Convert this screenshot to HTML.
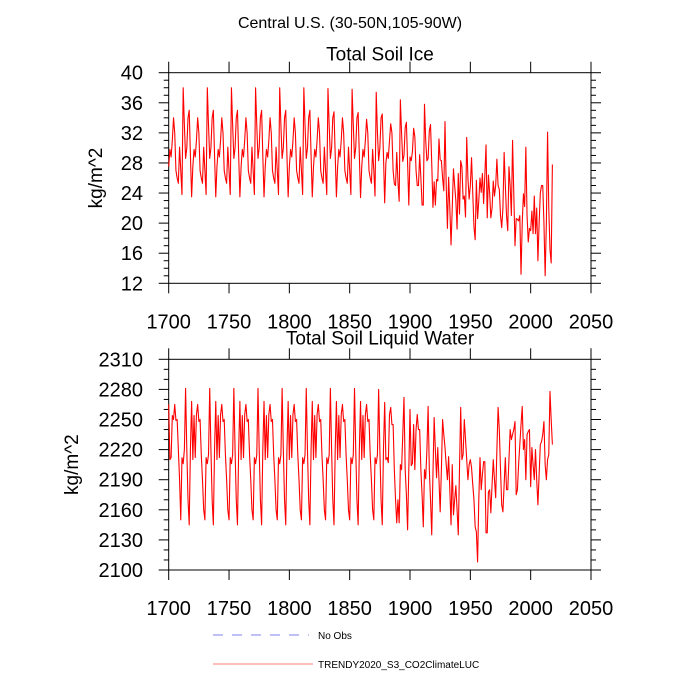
<!DOCTYPE html>
<html>
<head>
<meta charset="utf-8">
<style>
  html, body { margin: 0; padding: 0; background: #fff; }
  svg { display: block; font-family: "Liberation Sans", sans-serif; }
</style>
</head>
<body>
<svg id="chart" width="700" height="700" viewBox="0 0 700 700" xmlns="http://www.w3.org/2000/svg">
  <rect x="0" y="0" width="700" height="700" fill="#fff"/>
  <text x="350" y="28" font-size="16" text-anchor="middle">Central U.S. (30-50N,105-90W)</text>
  <g id="top"></g>
  <g id="bot"></g>
  <g>
    <line x1="213" y1="635" x2="309" y2="635" stroke="#5a5af0" stroke-width="0.8" stroke-dasharray="10,9"/>
    <text x="318" y="639" font-size="10">No Obs</text>
    <line x1="213" y1="664" x2="313" y2="664" stroke="#ff5555" stroke-width="0.8"/>
    <text x="318" y="668" font-size="10">TRENDY2020_S3_CO2ClimateLUC</text>
  </g>
</svg>
<script>
// ---- data ----
const startYear = 1700;
const xTicks = [1700, 1750, 1800, 1850, 1900, 1950, 2000, 2050];
const iceTicks = [12, 16, 20, 24, 28, 32, 36, 40];
const waterTicks = [2100, 2130, 2160, 2190, 2220, 2250, 2280, 2310];

const soilIce = [
27.5,29.8,28.8,31,34,32,27,26,25.3,30.1,27,23.8,38,33,28.6,30,34,35,29,23.5,
27.5,29.8,28.8,31,34,32,27,26,25.3,30.1,27,23.8,38,33,28.6,30,34,35,29,23.5,
27.5,29.8,28.8,31,34,32,27,26,25.3,30.1,27,23.8,38,33,28.6,30,34,35,29,23.5,
27.5,29.8,28.8,31,34,32,27,26,25.3,30.1,27,23.8,38,33,28.6,30,34,35,29,23.5,
27.5,29.8,28.8,31,34,32,27,26,25.3,30.1,27,23.8,38,33,28.6,30,34,35,29,23.5,
27.5,29.8,28.8,31,34,32,27,26,25.3,30.1,27,23.8,38,33,28.6,30,34,35,29,23.5,
27.5,29.8,28.8,31,34,32,27,26,25.3,30.1,27,23.8,37.9,33,28.6,30,34,34.8,29,23.5,
27.5,29.8,28.8,31,34,32,27,26,25.3,30.1,27,23.8,37.8,33,28.6,30,34,34.7,29,23.4,
27.5,29.8,28.8,31,33.8,32,27,26,25.3,29.8,27,23.6,37.4,32,28.3,30,34,34.5,29,22.7,
28,29.4,28.6,31,33.2,32,27,25.2,25,29.4,25.5,22.9,36.4,32,28.2,29,32.7,33.4,28,22.4,
28.8,28.3,29.5,32.6,31.5,27,25,25,29.1,26,22.4,22.4,35.8,31,28.3,28.6,32.3,33.1,28,22.1,
25.5,22.4,25.8,25.6,31.2,28.4,28.3,26,24.3,33.5,25,19.3,26.1,22,17.1,22,27.2,25,23,19.2,
26.6,21.2,28.3,27.5,23.2,23.6,20.8,31.4,26,23.2,25,28.7,24,19.5,17.8,25.7,20.6,23,26,24.1,
26.6,22.6,26.3,30.4,20.7,26.4,24,20.7,22,25.6,23.6,25,28.5,25,24.5,21,19.4,22,29.4,25,
21,19,27.5,25,21,31,24,17,20.6,20.5,20.3,21,13.2,20,23.9,22.2,30.1,21,17.5,19.3,
19,21.6,18.6,23.6,18.6,22,15,20,24,25,25,20,13,20,32.1,22,16.5,14.7,27.8
];

const soilWater = [
2265,2210,2212,2254,2250,2265,2249,2250,2220,2190,2150,2212,2206,2220,2281,2220,2170,2145,2220,2268,
2210,2254,2212,2255,2265,2248,2250,2215,2190,2160,2150,2212,2206,2215,2281,2220,2170,2145,2220,2268,
2210,2254,2212,2255,2265,2248,2250,2215,2190,2160,2150,2212,2206,2215,2281,2220,2170,2145,2220,2268,
2210,2254,2212,2255,2265,2248,2250,2215,2190,2160,2150,2212,2206,2215,2281,2220,2170,2145,2220,2268,
2210,2254,2212,2255,2265,2248,2250,2215,2190,2160,2150,2212,2206,2215,2281,2220,2170,2145,2220,2268,
2210,2254,2212,2255,2265,2248,2250,2215,2190,2160,2150,2212,2206,2215,2281,2220,2170,2145,2220,2268,
2210,2254,2212,2255,2265,2248,2250,2215,2190,2160,2150,2212,2206,2215,2281,2220,2170,2145,2220,2268,
2210,2254,2212,2255,2265,2248,2250,2215,2190,2160,2150,2212,2206,2215,2281,2220,2170,2145,2220,2268,
2210,2254,2212,2255,2265,2248,2250,2215,2190,2160,2150,2212,2206,2215,2280,2220,2170,2145,2220,2267,
2210,2212,2207,2255,2262,2245,2245,2200,2170,2147,
2170,2147,2205,2200,2235,2272,2200,2175,2140,2200,
2260,2204,2206,2245,2200,2240,2255,2240,2240,2200,
2175,2143,2200,2191,2220,2263,2200,2170,2135,2195,
2252,2220,2192,2222,2190,2158,2200,2250,2235,2222,
2205,2190,2213,2180,2145,2205,2155,2170,2184,2160,
2135,2200,2262,2210,2215,2250,2230,2210,2190,2205,
2210,2202,2185,2170,2143,2138,2108,2170,2212,2180,
2195,2208,2208,2137,2137,2178,2180,2157,2185,2210,
2190,2172,2220,2262,2240,2200,2165,2158,2185,2212,
2180,2180,2210,2240,2230,2235,2240,2248,2175,2180,
2205,2225,2245,2263,2220,2230,2190,2235,2238,2240,
2183,2222,2205,2190,2220,2190,2165,2195,2225,2228,
2235,2248,2205,2190,2210,2215,2278,2250,2225
];

// ---- drawing ----
const NS = 'http://www.w3.org/2000/svg';
function mk(tag, attrs, parent) {
  const e = document.createElementNS(NS, tag);
  for (const k in attrs) e.setAttribute(k, attrs[k]);
  parent.appendChild(e);
  return e;
}
const X0 = 168.7, X1 = 591;
const xMin = 1700, xMax = 2050;
function xScale(yr) { return X0 + (yr - xMin) / (xMax - xMin) * (X1 - X0); }

function panel(g, cfg) {
  const yScale = v => cfg.y1 - (v - cfg.vMin) / (cfg.vMax - cfg.vMin) * (cfg.y1 - cfg.y0);
  const fr = mk('rect', {x: X0, y: cfg.y0, width: X1 - X0, height: cfg.y1 - cfg.y0, fill: 'none', stroke: '#000', 'stroke-width': 1}, g);
  
  
  for (let v = cfg.vMin; v <= cfg.vMax + 1e-9; v += cfg.minor) {
    const y = yScale(v);
    const isMajor = cfg.ticks.some(t => Math.abs(t - v) < 1e-6);
    const len = isMajor ? 10 : 5;
    const l1 = mk('line', {x1: X0 - len, y1: y, x2: X0, y2: y, stroke: '#000', 'stroke-width': 1}, g);
    
    
    const l2 = mk('line', {x1: X1, y1: y, x2: X1 + len, y2: y, stroke: '#000', 'stroke-width': 1}, g);
    
    
  }
  cfg.ticks.forEach(t => {
    const tx = mk('text', {x: 143, y: yScale(t) + 7, 'font-size': 20, 'text-anchor': 'end'}, g);
    tx.textContent = String(t);
    
    
  });
  xTicks.forEach(t => {
    const x = xScale(t);
    const a = mk('line', {x1: x, y1: cfg.y0 - 11, x2: x, y2: cfg.y0, stroke: '#000', 'stroke-width': 1}, g);
    
    
    const b = mk('line', {x1: x, y1: cfg.y1, x2: x, y2: cfg.y1 + 10, stroke: '#000', 'stroke-width': 1}, g);
    
    
    const tx = mk('text', {x: x, y: cfg.y1 + 45, 'font-size': 20, 'text-anchor': 'middle'}, g);
    tx.textContent = String(t);
    
    
  });
  const title = mk('text', {x: 380, y: cfg.y0 - cfg.tOff, 'font-size': 19, 'text-anchor': 'middle'}, g);
  title.textContent = cfg.title;
  
  
  const cy = (cfg.y0 + cfg.y1) / 2;
  const yl = mk('text', {x: cfg.ylx, y: cy, 'font-size': 19, 'text-anchor': 'middle', transform: 'rotate(-90 ' + cfg.ylx + ' ' + cy + ')'}, g);
  yl.textContent = 'kg/m^2';
  
  
  const pts = cfg.data.map((v, i) => xScale(startYear + i).toFixed(2) + ',' + yScale(v).toFixed(2)).join(' ');
  const pl = mk('polyline', {points: pts, fill: 'none', stroke: '#ff0000', 'stroke-width': 1.1, 'stroke-linejoin': 'round'}, g);
  
  
}

panel(document.getElementById('top'), {y0: 72.7, y1: 283.3, vMin: 12, vMax: 40, minor: 1, ticks: iceTicks, title: 'Total Soil Ice', data: soilIce, ylx: 102, tOff: 12});
panel(document.getElementById('bot'), {y0: 359.3, y1: 570, vMin: 2100, vMax: 2310, minor: 10, ticks: waterTicks, title: 'Total Soil Liquid Water', data: soilWater, ylx: 78, tOff: 15});
</script>
</body>
</html>
